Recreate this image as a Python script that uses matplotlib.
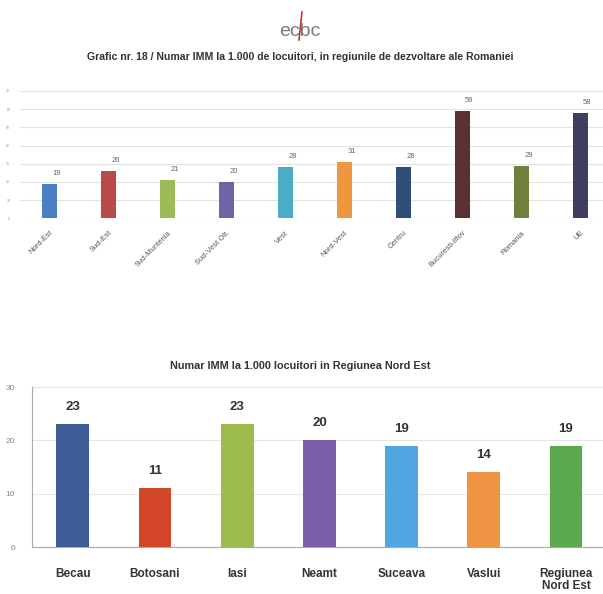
import numpy as np
import matplotlib
matplotlib.use("Agg")
import matplotlib.pyplot as plt
from matplotlib.lines import Line2D

plt.rcParams["font.family"] = ["Liberation Sans", "DejaVu Sans"]

# top chart: regiuni de dezvoltare
regiuni = ["Nord-Est", "Sud-Est", "Sud-Muntenia", "Sud-Vest Olt.", "Vest",
           "Nord-Vest", "Centru", "Bucuresti-Ilfov", "Romania", "UE"]
imm_regiuni = [19, 26, 21, 20, 28, 31, 28, 59, 29, 58]
culori_regiuni = ["#4a7fc1", "#b84a4a", "#9bbb59", "#7163a8", "#4bacc6",
                  "#f0963c", "#2f4f78", "#5b3034", "#6f7f3e", "#403e60"]
ticks_sus = [0, 10, 20, 30, 40, 50, 60, 70]

# bottom chart: judete Nord Est
judete = ["Becau", "Botosani", "Iasi", "Neamt", "Suceava", "Vaslui",
          "Regiunea\nNord Est"]
imm_judete = [23, 11, 23, 20, 19, 14, 19]
culori_judete = ["#3d5c95", "#d2472a", "#9cbd4e", "#7b5fa8", "#4fa6e0",
                 "#ee9442", "#5aa94d"]
ticks_jos = [0, 10, 20, 30]

fig = plt.figure(figsize=(6.03, 5.94), dpi=100)
W, H = 603.0, 594.0

# logo + titles
fig.text(300 / W, 1 - 31 / H, "ecbc", ha="center", va="center",
         fontsize=14, color="#7a7a7a")
fig.add_artist(Line2D([302 / W, 299 / W], [1 - 12 / H, 1 - 40 / H],
                      color="#c0392b", lw=1.2))
fig.text(300 / W, 1 - 57 / H,
         "Grafic nr. 18 / Numar IMM la 1.000 de locuitori, in regiunile de dezvoltare ale Romaniei",
         ha="center", va="center", fontsize=7.6, fontweight="bold", color="#333333")

# ---- top chart
ax1 = fig.add_axes([20 / W, 1 - 218.3 / H, 583 / W, 127.3 / H])
x1 = np.arange(len(regiuni))
ax1.bar(x1, imm_regiuni, width=0.25, color=culori_regiuni, zorder=3)
for xi, v in zip(x1, imm_regiuni):
    ax1.annotate(str(v), (xi, v), xytext=(5, 5), textcoords="offset points",
                 ha="center", va="bottom", fontsize=5.5, color="#666666")
ax1.set_xlim(-0.5, (603 - 20) / 59.0 - 0.5)
ax1.set_ylim(0, 70)
ax1.set_yticks(ticks_sus)
ax1.set_yticklabels([str(t) for t in ticks_sus], fontsize=2.5, color="#999999")
ax1.tick_params(axis="y", length=0, pad=7)
ax1.set_xticks(x1)
ax1.set_xticklabels(regiuni, rotation=45, ha="right", rotation_mode="anchor",
                    fontsize=5.5, color="#555555")
ax1.tick_params(axis="x", length=0, pad=8)
ax1.grid(axis="y", color="#e2e2e2", lw=0.8, zorder=0)
for s in ax1.spines.values():
    s.set_visible(False)

# ---- bottom chart
fig.text(300 / W, 1 - 366 / H,
         "Numar IMM la 1.000 locuitori in Regiunea Nord Est",
         ha="center", va="center", fontsize=7.8, fontweight="bold", color="#333333")

ax2 = fig.add_axes([31.7 / W, 1 - 547 / H, (603 - 31.7) / W, 160 / H])
x2 = np.arange(len(judete))
ax2.bar(x2, imm_judete, width=0.4, color=culori_judete, zorder=3)
for xi, v in zip(x2, imm_judete):
    ax2.annotate(str(v), (xi, v), xytext=(0, 8), textcoords="offset points",
                 ha="center", va="bottom", fontsize=9.5, fontweight="bold",
                 color="#333333")
ax2.set_xlim(-0.5, (603 - 31.7) / 82.2 - 0.5)
ax2.set_ylim(0, 30)
ax2.set_yticks(ticks_jos)
ax2.set_yticklabels([str(t) for t in ticks_jos], fontsize=6, color="#888888")
ax2.tick_params(axis="y", length=0, pad=12)
ax2.set_xticks(x2)
ax2.set_xticklabels(judete, fontsize=8.5, fontweight="bold", color="#333333",
                    linespacing=1.0)
ax2.tick_params(axis="x", length=0, pad=15)
ax2.grid(axis="y", color="#e6e6e6", lw=0.8, zorder=0)
ax2.spines["top"].set_visible(False)
ax2.spines["right"].set_visible(False)
ax2.spines["left"].set_color("#aaaaaa")
ax2.spines["bottom"].set_color("#aaaaaa")

fig.savefig("out.png", dpi=100, facecolor="white")
